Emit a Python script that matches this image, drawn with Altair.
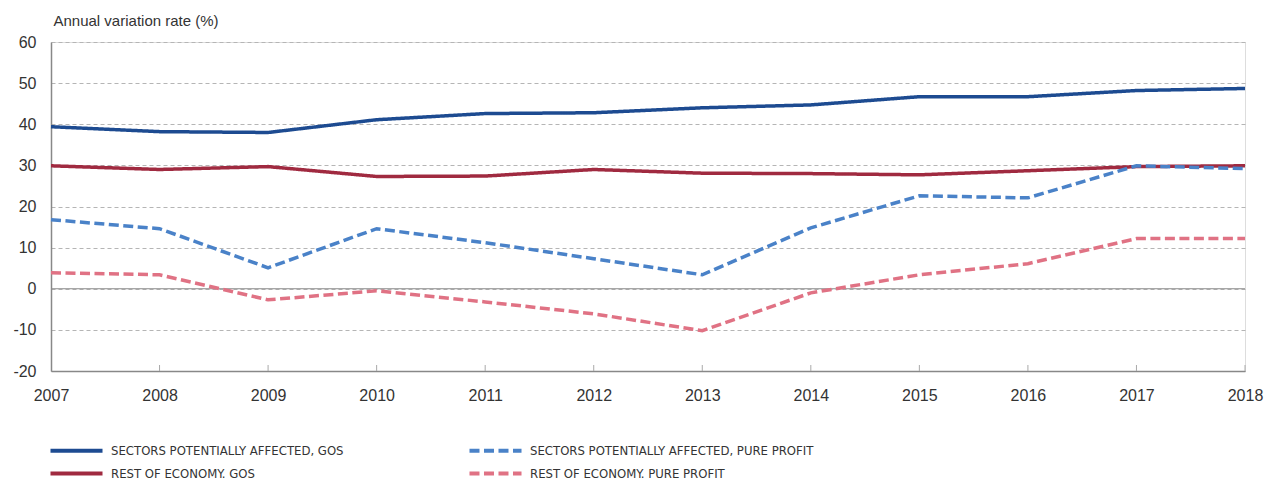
import altair as alt
import pandas as pd

years = list(range(2007, 2019))
series_names = [
    "SECTORS POTENTIALLY AFFECTED, GOS",
    "REST OF ECONOMY. GOS",
    "SECTORS POTENTIALLY AFFECTED, PURE PROFIT",
    "REST OF ECONOMY. PURE PROFIT",
]
sectors_gos = [39.4, 38.2, 38.0, 41.1, 42.6, 42.8, 44.0, 44.7, 46.7, 46.7, 48.2, 48.7]
rest_gos = [29.9, 29.0, 29.7, 27.3, 27.4, 29.0, 28.1, 28.0, 27.7, 28.7, 29.7, 29.9]
sectors_pp = [16.8, 14.6, 5.1, 14.6, 11.2, 7.3, 3.4, 14.8, 22.6, 22.1, 29.9, 29.2]
rest_pp = [3.9, 3.4, -2.7, -0.5, -3.2, -6.1, -10.2, -1.0, 3.4, 6.1, 12.2, 12.2]

colors = ["#1d4b91", "#a02a40", "#4a82c8", "#e07284"]
dashes = [[1, 0], [1, 0], [10, 4.5], [10, 4.5]]

rows = []
for name, vals in zip(series_names, [sectors_gos, rest_gos, sectors_pp, rest_pp]):
    for y, v in zip(years, vals):
        rows.append({"year": y, "value": v, "series": name})
df = pd.DataFrame(rows)

FONT = "Liberation Sans"
LEGEND_FONT = "'DejaVu Sans Condensed', 'Liberation Sans', sans-serif"
xscale = alt.Scale(domain=[2007, 2018], nice=False, zero=False)
yscale = alt.Scale(domain=[-20, 60], nice=False)

legend_cfg = dict(title=None, orient="none", legendX=13, legendY=396,
                  columns=2, columnPadding=117, rowPadding=2,
                  symbolType="M-2.5,0H2.5", symbolSize=433,
                  symbolStrokeWidth=4, labelFontSize=13,
                  labelFont=LEGEND_FONT, labelColor="#333",
                  labelLimit=400, gridAlign="each", labelOffset=22)

lines = alt.Chart(df).mark_line(strokeWidth=3.5).encode(
    x=alt.X("year:Q", scale=xscale,
            axis=alt.Axis(values=years, format="d", title=None, grid=False, ticks=False,
                          labelFlush=False, labelOverlap=False,
                          labelFontSize=16, labelColor="#333", labelPadding=16,
                          domainColor="#888", domainWidth=1.5, labelFont=FONT)),
    y=alt.Y("value:Q", scale=yscale,
            axis=alt.Axis(values=list(range(-20, 61, 10)), title="Annual variation rate (%)",
                          labelExpr="'' + datum.value", labelFlush=False,
                          titleAngle=0, titleAlign="left", titleBaseline="middle",
                          titleX=2, titleY=-22, titleFontSize=15, titleFontWeight="normal",
                          titleColor="#333", titleFont=FONT,
                          ticks=False, labelFontSize=16, labelColor="#333", labelPadding=15,
                          labelFont=FONT, domainColor="#888", domainWidth=1.5,
                          grid=True, gridDash=[4, 3], gridColor="#b5b5b5", gridWidth=1)),
    color=alt.Color("series:N", scale=alt.Scale(domain=series_names, range=colors),
                    legend=alt.Legend(**legend_cfg)),
    strokeDash=alt.StrokeDash("series:N", scale=alt.Scale(domain=series_names, range=dashes),
                              legend=alt.Legend(**legend_cfg)),
)

zero_df = pd.DataFrame({"z": [0]})
zero = alt.Chart(zero_df).mark_rule(color="#8a8a8a", strokeWidth=1.2).encode(
    y=alt.Y("z:Q", scale=yscale))

tick_df = pd.DataFrame({"year": years[1:]})
ticks = alt.Chart(tick_df).mark_rule(color="#aaa", strokeWidth=1).encode(
    x=alt.X("year:Q", scale=xscale), y=alt.value(323), y2=alt.value(329))

chart = alt.layer(zero, ticks, lines).properties(
    width=1194, height=329,
    autosize=alt.AutoSizeParams(type="none"),
    padding={"left": 51, "top": 42, "right": 19, "bottom": 110},
).configure_view(stroke=None).configure(background="white")

chart.save("out.html", embed_options={"renderer": "svg", "actions": False})
